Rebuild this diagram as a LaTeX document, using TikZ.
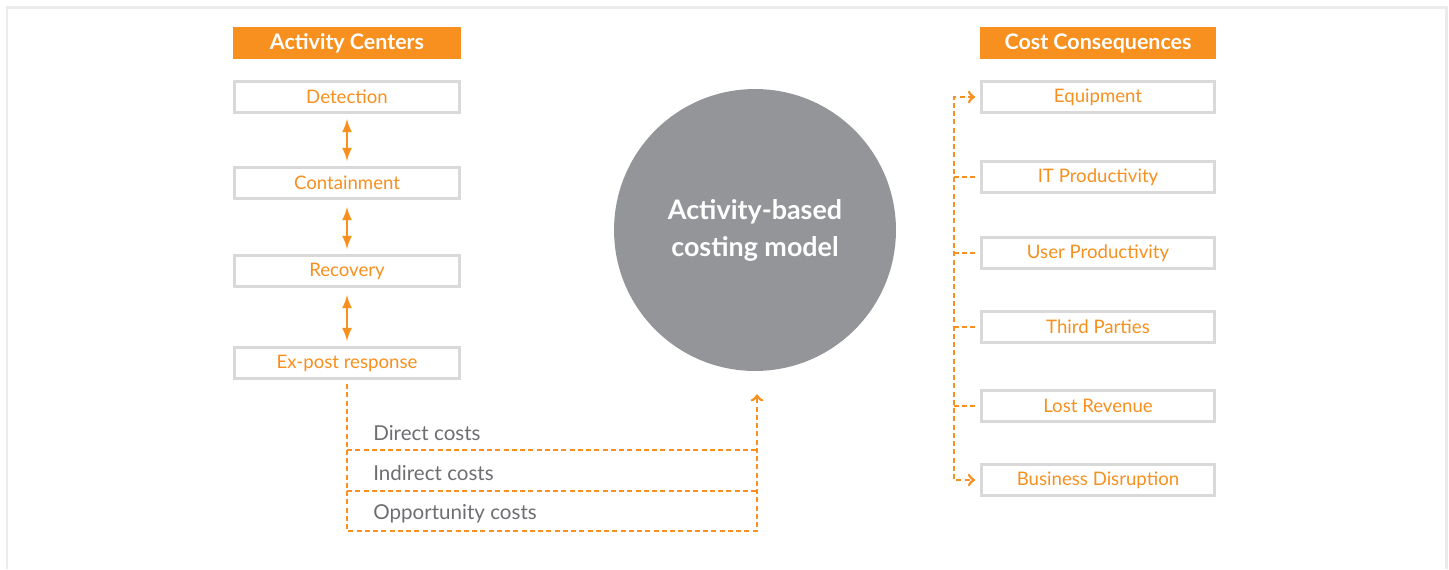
\documentclass[tikz,border=0pt]{standalone}
\usepackage{fontspec}
\setmainfont{Lato}
\usetikzlibrary{arrows,positioning,calc}
\definecolor{abcorange}{HTML}{F7901E}
\definecolor{abcgray}{HTML}{939598}
\definecolor{abctext}{HTML}{6D6E71}
\definecolor{abcline}{HTML}{D9D9D9}
\definecolor{abcframe}{HTML}{EBEBEB}
\tikzset{
  header/.style={fill=abcorange, text=white, font=\fontsize{12.2}{14}\selectfont\bfseries, minimum height=0.64cm, inner sep=0pt},
  actbox/.style={draw=abcline, line width=0.06cm, fill=white, text=abcorange, font=\fontsize{10.6}{12}\selectfont, minimum width=4.5cm, minimum height=0.62cm, inner sep=0pt},
  consbox/.style={actbox, minimum width=4.66cm},
  costtext/.style={text=abctext, font=\fontsize{11.7}{14}\selectfont, anchor=west, inner sep=0pt},
  costline/.style={abcorange, line width=0.055cm, dash pattern=on 0.1cm off 0.065cm},
}
\begin{document}
\begin{tikzpicture}[x=0.02cm, y=-0.02cm]
        \useasboundingbox (0,0) rectangle (1449,569);
        \draw[abcframe, line width=0.06cm] (7,569) -- (7,7) -- (1446,7) -- (1446,569);
        %nodes
        \node[header, minimum width=4.56cm] (ach) at (347,43) {Activity Centers};
        \node[actbox] (det) at (347,97) {Detection};
        \node[actbox] (cont) at (347,183) {Containment};
        \node[actbox] (rec) at (347,271) {Recovery};
        \node[actbox] (exp) at (347,363) {Ex-post response};
        \node[circle, fill=abcgray, minimum size=5.64cm, text=white, align=center,
              font=\fontsize{15.3}{21}\selectfont\bfseries] (abc) at (755,230) {Activity-based\\costing model};
        \node[header, minimum width=4.72cm] (cch) at (1098,43) {Cost Consequences};
        \node[consbox] (equip) at (1098,97) {Equipment};
        \node[consbox] (itp) at (1098,177) {IT Productivity};
        \node[consbox] (usp) at (1098,253) {User Productivity};
        \node[consbox] (thp) at (1098,327) {Third Parties};
        \node[consbox] (lrev) at (1098,406) {Lost Revenue};
        \node[consbox] (bdis) at (1098,480) {Business Disruption};
        \node[costtext] (dc) at (373,433) {Direct costs};
        \node[costtext] (ic) at (373,473) {Indirect costs};
        \node[costtext] (oc) at (373,514) {Opportunity costs};
        \coordinate (c1l) at (347,450);
        \coordinate (c1r) at (757,450);
        \coordinate (c2l) at (347,491);
        \coordinate (c2r) at (757,491);
        \coordinate (c3l) at (347,531);
        \coordinate (c3r) at (757,531);
        \coordinate (bus) at (954,0);
        %edges
        \draw[abcorange, line width=0.055cm, latex-latex, shorten <=0.1cm, shorten >=0.1cm] (det) -- (cont);
        \draw[abcorange, line width=0.055cm, latex-latex, shorten <=0.14cm, shorten >=0.1cm] (cont) -- (rec);
        \draw[abcorange, line width=0.055cm, latex-latex, shorten <=0.14cm, shorten >=0.1cm] (rec) -- (exp);
        \draw[costline, ->, shorten <=0.08cm] (exp.south) -- (c3l) -- (c3r) -- ($(abc.south -| c3r)+(0,23)$);
        \draw[costline] (c1l) -- (c1r);
        \draw[costline] (c2l) -- (c2r);
        \draw[costline, <->, shorten <=0.1cm, shorten >=0.1cm] (equip.west) -- (equip.west -| bus) -- (bdis.west -| bus) -- (bdis.west);
        \foreach \n in {itp, usp, thp, lrev}
          \draw[costline, shorten <=0.1cm] (\n.west) -- (\n.west -| bus);
      \end{tikzpicture}
\end{document}
